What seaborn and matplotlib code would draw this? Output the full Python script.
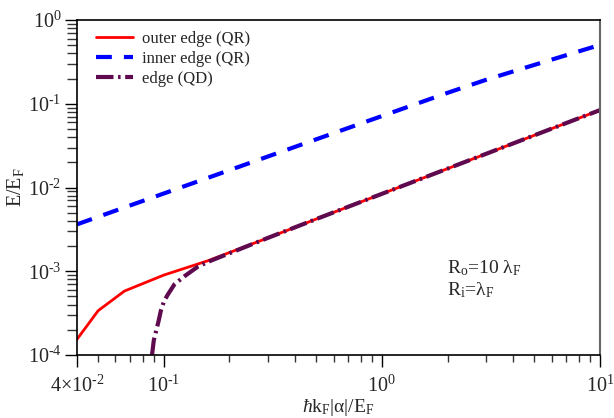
import numpy as np
import pandas as pd
import seaborn as sns
import matplotlib
matplotlib.use("Agg")
import matplotlib.pyplot as plt
from matplotlib.ticker import LogLocator, FixedLocator, FixedFormatter, NullFormatter

# values (log-log)
outer_x = [0.04, 0.05, 0.066, 0.1, 0.16, 0.3, 0.5, 1, 2, 5, 10]
outer_y = [1.54e-4, 3.38e-4, 5.8e-4, 9.0e-4, 1.34e-3, 2.5e-3, 4.2e-3, 8.4e-3, 1.68e-2, 4.2e-2, 8.4e-2]

inner_x = [0.04, 0.07, 0.1, 0.2, 0.5, 1, 2, 3, 5, 10]
inner_y = [3.63e-3, 6.1e-3, 8.48e-3, 1.61e-2, 3.76e-2, 7.13e-2, 0.135, 0.193, 0.291, 0.504]

qd_x = [0.0883, 0.090, 0.0945, 0.097, 0.100, 0.104, 0.112, 0.125, 0.143, 0.16, 0.3, 0.5, 1, 2, 5, 10]
qd_y = [1.0e-4, 1.5e-4, 2.5e-4, 3.4e-4, 4.3e-4, 5.2e-4, 7.0e-4, 8.8e-4, 1.13e-3, 1.3e-3, 2.5e-3, 4.2e-3, 8.4e-3, 1.68e-2, 4.2e-2, 8.4e-2]

labels = ["outer edge (QR)", "inner edge (QR)", "edge (QD)"]
xtick_vals = [0.04, 0.1, 1, 10]
xtick_labels = [r"4$\times$10$^{\text{-2}}$", r"10$^{\text{-1}}$", r"10$^{\text{0}}$", r"10$^{\text{1}}$"]
ytick_vals = [1e-4, 1e-3, 1e-2, 1e-1, 1]
ytick_labels = [r"10$^{\text{-4}}$", r"10$^{\text{-3}}$", r"10$^{\text{-2}}$", r"10$^{\text{-1}}$", r"10$^{\text{0}}$"]

sns.set_style("ticks")
plt.rcParams["font.family"] = ["Liberation Serif", "DejaVu Serif"]
plt.rcParams["mathtext.fontset"] = "custom"
plt.rcParams["mathtext.rm"] = "Liberation Serif"
plt.rcParams["mathtext.it"] = "Liberation Serif:italic"

fig = plt.figure(figsize=(6.14, 4.18), dpi=100)
ax = fig.add_axes([77 / 614, 1 - 355 / 418, 523 / 614, 335 / 418])

sns.lineplot(x=outer_x, y=outer_y, ax=ax, color="#ff0000", lw=2.0, label=labels[0])
sns.lineplot(x=inner_x, y=inner_y, ax=ax, color="#0000ff", lw=3.0, label=labels[1])
sns.lineplot(x=qd_x, y=qd_y, ax=ax, color="#5f0a4f", lw=3.0, label=labels[2])
ax.lines[1].set_dashes((3.8, 2.9))
ax.lines[2].set_dashes((4.2, 1.1, 0.6, 1.1))

ax.set_xscale("log")
ax.set_yscale("log")
ax.set_xlim(0.04, 10)
ax.set_ylim(1e-4, 1)

ax.xaxis.set_major_locator(FixedLocator(xtick_vals))
ax.xaxis.set_major_formatter(FixedFormatter(xtick_labels))
ax.xaxis.set_minor_locator(LogLocator(base=10, subs=np.arange(2, 10)))
ax.xaxis.set_minor_formatter(NullFormatter())
ax.yaxis.set_major_locator(FixedLocator(ytick_vals))
ax.yaxis.set_major_formatter(FixedFormatter(ytick_labels))
ax.yaxis.set_minor_locator(LogLocator(base=10, subs=np.arange(2, 10)))
ax.yaxis.set_minor_formatter(NullFormatter())

ax.tick_params(which="both", direction="out", width=1, color="black", labelsize=14.5)
ax.tick_params(axis="x", which="major", length=8.6, pad=6.5)
ax.tick_params(axis="x", which="minor", length=5, color="#333333")
ax.tick_params(axis="y", which="major", length=8.6, pad=2.5)
ax.tick_params(axis="y", which="minor", length=7.2, color="#333333")
for s in ["left", "bottom", "top"]:
    ax.spines[s].set_color("black")
    ax.spines[s].set_linewidth(1.2)
ax.spines["right"].set_color("#666666")
ax.spines["right"].set_linewidth(1.5)

ax.set_xlabel(r"$\hbar$k$_{\mathregular{F}}$|α|/E$_{\mathregular{F}}$", fontsize=14, labelpad=0)
ax.set_ylabel(r"E/E$_{\mathregular{F}}$", fontsize=14.5, labelpad=1)

ax.text(0.707, 0.26, r"R$_{\mathregular{o}}$=10 λ$_{\mathregular{F}}$", transform=ax.transAxes, fontsize=14, va="center")
ax.text(0.707, 0.195, r"R$_{\mathregular{i}}$=λ$_{\mathregular{F}}$", transform=ax.transAxes, fontsize=14, va="center")

ax.legend(loc="upper left", bbox_to_anchor=(0.017, 0.998), frameon=False, fontsize=12,
          handlelength=2.2, handletextpad=0.55, labelspacing=0.25, borderaxespad=0.2)

fig.savefig("out.png", dpi=100)
